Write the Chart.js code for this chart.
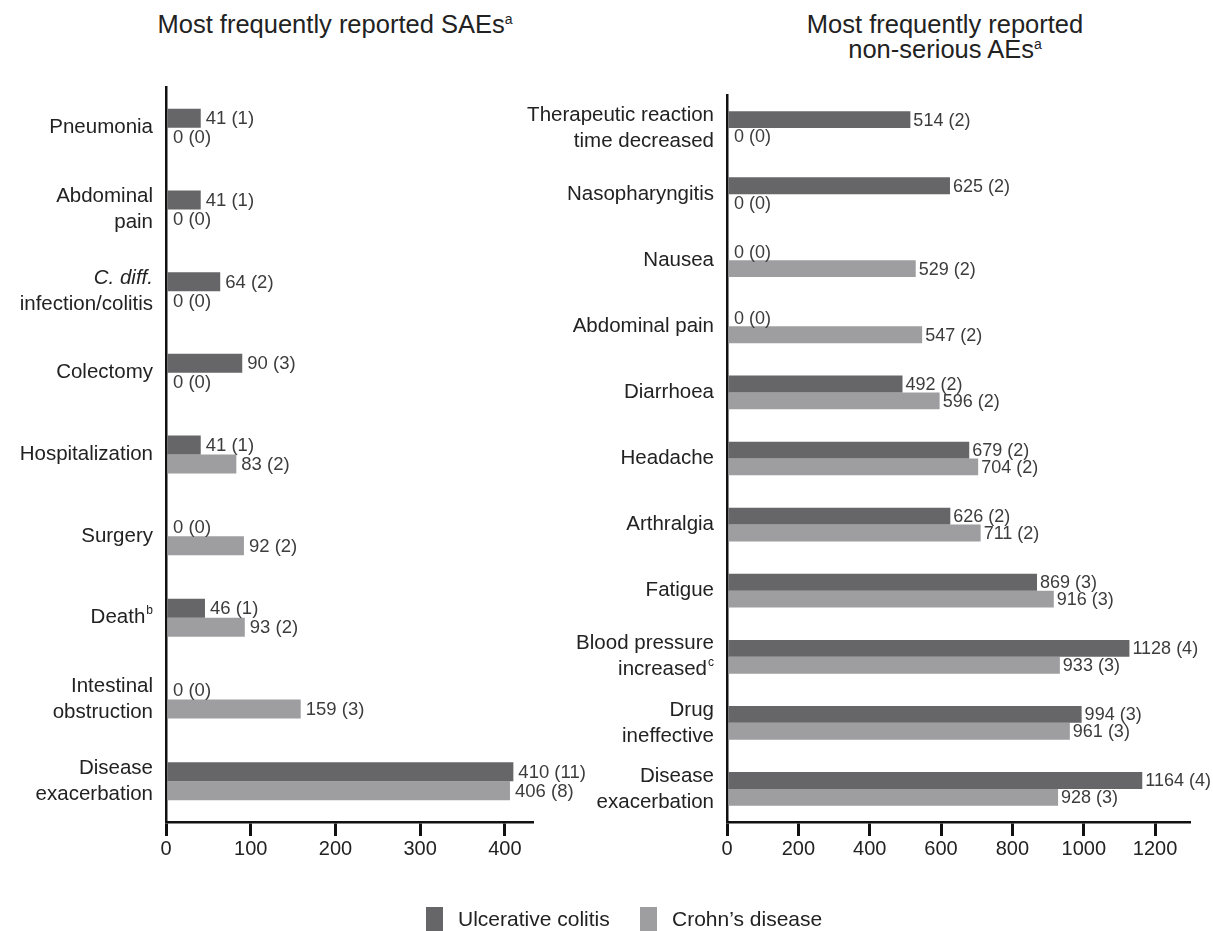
<!DOCTYPE html>
<html>
<head>
<meta charset="utf-8">
<script src="https://cdn.jsdelivr.net/npm/chart.js@4.4.1/dist/chart.umd.min.js"></script>
<style>
  body { margin: 0; background: #fff; font-family: "Liberation Sans", Arial, sans-serif; color: #222; }
  #wrap { position: relative; width: 1213px; height: 931px; overflow: hidden; }
  canvas { position: absolute; left: 0; top: 0; }
  .title { position: absolute; font-size: 25.5px; text-align: center; line-height: 25px; color: #222; white-space: nowrap; }
  .title sup { font-size: 14px; vertical-align: 9px; line-height: 0; }
  #legend { position: absolute; top: 907px; left: 0; width: 1213px; font-size: 21px; color: #222; }
  #legend span.item { position: absolute; top: 0; white-space: nowrap; }
  #legend span.sw { display: inline-block; width: 17px; height: 24px; vertical-align: -5px; margin-right: 15px; }
</style>
</head>
<body>
<div id="wrap">
  <div class="title" style="left:135px; top:12px; width:400px;">Most frequently reported SAEs<sup>a</sup></div>
  <div class="title" style="left:745px; top:12px; width:400px;">Most frequently reported<br>non-serious AEs<sup>a</sup></div>
  <canvas id="saeChart" width="1213" height="931"></canvas>
  <canvas id="aeChart" width="1213" height="931"></canvas>
  <div id="legend">
    <span class="item" style="left:426px"><span class="sw" style="background:#666669"></span>Ulcerative colitis</span>
    <span class="item" style="left:640px"><span class="sw" style="background:#9e9ea0"></span>Crohn’s disease</span>
  </div>
</div>
<script>
// SAEs (left panel). Lines wrapped in *...* are italic, ^x is a superscript.
const saeLabels = [
  ['Pneumonia'],
  ['Abdominal', 'pain'],
  ['*C. diff.*', 'infection/colitis'],
  ['Colectomy'],
  ['Hospitalization'],
  ['Surgery'],
  ['Death^b'],
  ['Intestinal', 'obstruction'],
  ['Disease', 'exacerbation']
];
const saeUC = [41, 41, 64, 90, 41, 0, 46, 0, 410];
const saeUCn = [1, 1, 2, 3, 1, 0, 1, 0, 11];
const saeCD = [0, 0, 0, 0, 83, 92, 93, 159, 406];
const saeCDn = [0, 0, 0, 0, 2, 2, 2, 3, 8];
const saeTicks = [0, 100, 200, 300, 400];

// Non-serious AEs (right panel)
const aeLabels = [
  ['Therapeutic reaction', 'time decreased'],
  ['Nasopharyngitis'],
  ['Nausea'],
  ['Abdominal pain'],
  ['Diarrhoea'],
  ['Headache'],
  ['Arthralgia'],
  ['Fatigue'],
  ['Blood pressure', 'increased^c'],
  ['Drug', 'ineffective'],
  ['Disease', 'exacerbation']
];
const aeUC = [514, 625, 0, 0, 492, 679, 626, 869, 1128, 994, 1164];
const aeUCn = [2, 2, 0, 0, 2, 2, 2, 3, 4, 3, 4];
const aeCD = [0, 0, 529, 547, 596, 704, 711, 916, 933, 961, 928];
const aeCDn = [0, 0, 2, 2, 2, 2, 2, 3, 3, 3, 3];
const aeTicks = [0, 200, 400, 600, 800, 1000, 1200];

const DARK = '#666669';
const LIGHT = '#9e9ea0';
const FONT = '"Liberation Sans", Arial, sans-serif';

// value labels "n (count)" at the end of each bar
const valueLabels = {
  id: 'valueLabels',
  afterDatasetsDraw(chart, args, opts) {
    const ctx = chart.ctx;
    ctx.save();
    ctx.font = opts.size + 'px ' + FONT;
    ctx.fillStyle = '#3c3c3c';
    ctx.textBaseline = 'middle';
    ctx.textAlign = 'left';
    chart.data.datasets.forEach((ds, i) => {
      chart.getDatasetMeta(i).data.forEach((bar, j) => {
        const v = ds.data[j];
        ctx.fillText(v + ' (' + ds.counts[j] + ')', bar.x + (v === 0 ? 7 : opts.gap), bar.y + 1);
      });
    });
    ctx.restore();
  }
};

// category labels drawn beside the y axis (italics + superscripts)
const categoryLabels = {
  id: 'categoryLabels',
  afterDraw(chart) {
    const ctx = chart.ctx;
    const y = chart.scales.y;
    const right = chart.chartArea.left - 13;
    const lh = 26;
    ctx.save();
    ctx.fillStyle = '#222';
    ctx.textBaseline = 'middle';
    chart.data.labels.forEach((lines, i) => {
      const cy = y.getPixelForValue(i);
      lines.forEach((raw, k) => {
        const ly = cy + (k - (lines.length - 1) / 2) * lh;
        let text = raw, sup = '', italic = false;
        if (text.startsWith('*')) { italic = true; text = text.replace(/\*/g, ''); }
        if (text.includes('^')) { [text, sup] = text.split('^'); }
        const mainFont = (italic ? 'italic ' : '') + '20.5px ' + FONT;
        const supFont = '12px ' + FONT;
        ctx.font = supFont;
        const sw = sup ? ctx.measureText(sup).width + 1 : 0;
        ctx.font = mainFont;
        const mw = ctx.measureText(text).width;
        ctx.textAlign = 'left';
        ctx.fillText(text, right - sw - mw, ly);
        if (sup) {
          ctx.font = supFont;
          ctx.fillText(sup, right - sw + 1, ly - 7);
        }
      });
    });
    ctx.restore();
  }
};

function makeChart(id, labels, uc, ucn, cd, cdn, ticks, max, catPct, padding, valueOpts) {
  return new Chart(document.getElementById(id), {
    type: 'bar',
    data: {
      labels: labels,
      datasets: [
        { label: 'Ulcerative colitis', data: uc, counts: ucn, backgroundColor: DARK, borderWidth: 0 },
        { label: 'Crohn’s disease', data: cd, counts: cdn, backgroundColor: LIGHT, borderWidth: 0 }
      ]
    },
    options: {
      indexAxis: 'y',
      responsive: false,
      animation: false,
      events: [],
      layout: { padding: padding },
      datasets: { bar: { categoryPercentage: catPct, barPercentage: 1 } },
      plugins: { legend: { display: false }, tooltip: { enabled: false }, valueLabels: valueOpts },
      scales: {
        x: {
          min: 0,
          max: max,
          afterBuildTicks: s => { s.ticks = ticks.map(v => ({ value: v })); },
          afterFit: s => { s.height = 44; },
          border: { display: true, color: '#111', width: 2.5 },
          grid: { drawOnChartArea: false, drawTicks: true, tickLength: 14, color: '#111', lineWidth: 3 },
          ticks: {
            color: '#222',
            font: { size: 20, family: FONT },
            padding: 1,
            maxRotation: 0,
            callback: v => String(v)
          }
        },
        y: {
          afterFit: s => { s.width = 0; },
          border: { display: true, color: '#111', width: 2.5 },
          grid: { display: false },
          ticks: { display: false }
        }
      }
    },
    plugins: [valueLabels, categoryLabels]
  });
}

makeChart('saeChart', saeLabels, saeUC, saeUCn, saeCD, saeCDn, saeTicks, 432, 0.465,
  { left: 166, right: 1213 - 532, top: 87, bottom: 931 - 822 - 44 }, { size: 18.5, gap: 5 });
makeChart('aeChart', aeLabels, aeUC, aeUCn, aeCD, aeCDn, aeTicks, 1295, 0.51,
  { left: 727, right: 1213 - 1189, top: 95, bottom: 931 - 822 - 44 }, { size: 18, gap: 3 });
</script>
</body>
</html>
